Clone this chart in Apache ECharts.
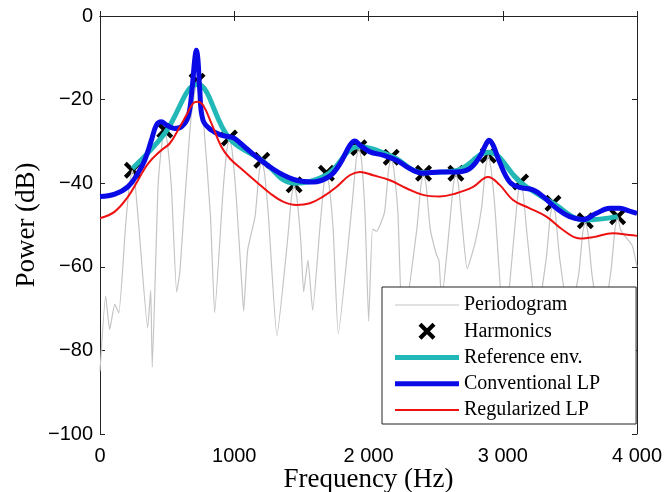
<!DOCTYPE html>
<html>
<head>
<meta charset="utf-8">
<script src="https://cdn.jsdelivr.net/npm/echarts@6/dist/echarts.min.js"></script>
<style>
html,body{margin:0;padding:0;background:#fff;}
#chart{width:666px;height:492px;}
</style>
</head>
<body>
<div id="chart"></div>
<script>
// ---- data ----
var xTickLabels = ['0', '1000', '2 000', '3 000', '4 000'];
var yTickLabels = ['\u2212100', '\u221280', '\u221260', '\u221240', '\u221220', '0'];

var periodogramFreq = [0,42,72,110,140,191,221,241,261,291,355,378,389,432,462,482,502,532,571,594,623,673,703,723,743,773,823,854,914,944,964,984,1014,1055,1070,1100,1155,1185,1205,1225,1255,1318,1396,1426,1446,1466,1496,1517,1549,1584,1637,1667,1687,1707,1737,1775,1878,1908,1928,1948,1975,2001,2030,2060,2119,2149,2169,2189,2219,2255,2360,2390,2410,2430,2460,2505,2525,2545,2601,2631,2651,2671,2701,2735,2794,2842,2872,2892,2912,2942,3012,3083,3113,3133,3153,3183,3255,3324,3354,3374,3394,3424,3495,3565,3595,3615,3635,3665,3735,3806,3836,3856,3876,3906,3965,4000];
var periodogramDb = [-85,-67,-75,-69,-71,-50,-40,-36.9,-40,-51,-74.6,-65.6,-84,-41,-30.3,-27.3,-30.3,-41,-66,-61.5,-48,-26,-18.6,-15.6,-18.6,-26,-48,-71,-43,-32.2,-29.2,-32.2,-43,-63.6,-70.6,-56,-48,-37.5,-34.5,-37.5,-48,-76.5,-54,-43.4,-40.4,-43.4,-54,-66,-58.4,-70.4,-51,-40.6,-37.6,-40.6,-51,-76,-45,-34.5,-31.5,-34.5,-48,-73,-51,-51.5,-47,-36.8,-33.8,-36.8,-47,-75,-51,-40.6,-37.6,-40.6,-51,-57,-58.5,-68,-51,-40.6,-37.6,-40.6,-51,-60.5,-54.3,-46,-36.3,-33.3,-36.3,-46,-76,-53,-42.7,-39.7,-42.7,-53,-72,-58,-47.8,-44.8,-47.8,-58,-72,-62,-52,-49,-52,-62,-75,-61,-51,-48,-51,-52.5,-55,-60];

var harmonicFreq = [241,482,723,964,1205,1446,1687,1928,2169,2410,2651,2892,3133,3374,3615,3856];
var harmonicDb = [-36.9,-27.3,-15.6,-29.2,-34.5,-40.4,-37.6,-31.5,-33.8,-37.6,-37.6,-33.3,-39.7,-44.8,-49.0,-48.0];

var referenceFreq = [241,482,723,964,1205,1446,1687,1928,2169,2410,2651,2892,3133,3374,3615,3856];
var referenceDb = [-36.5,-28.1,-16.4,-29.3,-34.5,-40.0,-38.0,-31.3,-33.5,-37.5,-37.0,-32.6,-39.8,-44.8,-48.8,-48.0];

var conventionalFreq = [0,110,209,283,333,383,420,457,495,556,606,656,685,705,718,730,743,767,830,904,967,1003,1091,1214,1339,1463,1587,1711,1788,1862,1899,1936,2011,2108,2208,2307,2406,2530,2655,2754,2828,2878,2898,2928,2977,3052,3126,3225,3300,3400,3499,3598,3698,3797,3871,3946,4000];
var conventionalDb = [-43.2,-42.6,-40.8,-37.6,-34.5,-29.7,-26.1,-25.3,-26.1,-26.9,-26.5,-24.1,-17.7,-10.6,-8.2,-10.6,-17.7,-24.9,-27.3,-28.5,-28.9,-29.3,-31.7,-34.9,-37.6,-39.3,-39.7,-38.3,-35.3,-30.9,-29.9,-30.9,-32.5,-33.3,-34.5,-36.5,-37.6,-37.3,-37.3,-36.5,-33.7,-30.5,-29.7,-30.9,-35.0,-39.7,-41.0,-41.6,-43.2,-46,-48,-48.7,-47.2,-46,-46,-46.7,-47.2];

var regularizedFreq = [0,110,209,283,358,457,519,581,644,693,726,767,830,904,967,1065,1166,1266,1363,1463,1563,1661,1761,1860,1936,2034,2159,2282,2406,2530,2655,2779,2890,2977,3076,3201,3325,3449,3574,3672,3821,3946,4000];
var regularizedDb = [-48.4,-46.8,-43.2,-39.3,-35.3,-32.1,-30.5,-27.3,-23.7,-20.9,-20.5,-21.3,-25.7,-31.3,-34.1,-36.9,-39.7,-42.4,-44.4,-45.2,-44.8,-43.2,-40.9,-38.1,-37.3,-38.1,-39.3,-41.2,-42.8,-43.2,-42.4,-40.9,-38.5,-40.4,-44,-46,-48,-51.2,-53.2,-52.9,-52,-52.4,-52.6];

function pairs(xs, ys) { return xs.map(function (x, i) { return [x, ys[i]]; }); }

var crossPath = 'path://M3.5,0 L10,6.5 L16.5,0 L20,3.5 L13.5,10 L20,16.5 L16.5,20 L10,13.5 L3.5,20 L0,16.5 L6.5,10 L0,3.5 Z';
function barIcon(h) { return 'path://M0,0 L64,0 L64,' + h + ' L0,' + h + ' Z'; }

var chart = echarts.init(document.getElementById('chart'), null, {renderer: 'canvas'});
var axisColor = '#222';
var sans = 'Liberation Sans, Arial, sans-serif';
var serif = 'Liberation Serif, Times New Roman, serif';

chart.setOption({
  animation: false,
  backgroundColor: '#fff',
  grid: {left: 100, right: 29, top: 16, bottom: 58, containLabel: false, outerBoundsMode: 'none'},
  xAxis: [{
    type: 'value', min: 0, max: 4000, interval: 1000,
    name: 'Frequency (Hz)', nameLocation: 'middle', nameGap: 32, nameMoveOverlap: false,
    nameTextStyle: {fontFamily: serif, fontSize: 27, color: '#000'},
    axisLine: {show: true, lineStyle: {color: axisColor, width: 1}},
    axisTick: {show: true, inside: true, length: 5, lineStyle: {color: axisColor}},
    axisLabel: {
      margin: 12, fontFamily: sans, fontSize: 20, color: '#000',
      formatter: function (v) { return xTickLabels[Math.round(v / 1000)]; }
    },
    splitLine: {show: false}
  }, {
    type: 'value', min: 0, max: 4000, interval: 1000, position: 'top',
    axisLine: {show: true, onZero: false, lineStyle: {color: axisColor, width: 1}},
    axisTick: {show: true, inside: true, length: 5, lineStyle: {color: axisColor}},
    axisLabel: {show: false}, splitLine: {show: false}
  }],
  yAxis: [{
    type: 'value', min: -100, max: 0, interval: 20,
    name: 'Power (dB)', nameLocation: 'middle', nameGap: 60, nameMoveOverlap: false,
    nameTextStyle: {fontFamily: serif, fontSize: 27, color: '#000'},
    axisLine: {show: true, onZero: false, lineStyle: {color: axisColor, width: 1}},
    axisTick: {show: true, inside: true, length: 5, lineStyle: {color: axisColor}},
    axisLabel: {
      margin: 7, fontFamily: sans, fontSize: 20, color: '#000',
      formatter: function (v) { return yTickLabels[Math.round((v + 100) / 20)]; }
    },
    splitLine: {show: false}
  }, {
    type: 'value', min: -100, max: 0, interval: 20, position: 'right',
    axisLine: {show: true, onZero: false, lineStyle: {color: axisColor, width: 1}},
    axisTick: {show: true, inside: true, length: 5, lineStyle: {color: axisColor}},
    axisLabel: {show: false}, splitLine: {show: false}
  }],
  legend: {
    orient: 'vertical', left: 382, top: 287,
    padding: [8, 36, 4, 13], itemGap: 6.25, itemWidth: 64, itemHeight: 17, itemTextGap: 10,
    backgroundColor: '#fff', borderColor: '#222', borderWidth: 1, borderRadius: 0,
    textStyle: {fontFamily: serif, fontSize: 20, lineHeight: 20, color: '#000'},
    data: [
      {name: 'Periodogram', icon: barIcon(1.2)},
      {name: 'Harmonics'},
      {name: 'Reference env.', icon: barIcon(5)},
      {name: 'Conventional LP', icon: barIcon(5)},
      {name: 'Regularized LP', icon: barIcon(2)}
    ]
  },
  series: [{
    name: 'Periodogram', type: 'line', data: pairs(periodogramFreq, periodogramDb),
    symbol: 'none', smooth: 0.15, lineStyle: {color: '#c4c4c4', width: 1.2}, itemStyle: {color: '#c4c4c4'}
  }, {
    name: 'Harmonics', type: 'scatter', data: pairs(harmonicFreq, harmonicDb),
    symbol: crossPath, symbolSize: 17, itemStyle: {color: '#000', opacity: 1}
  }, {
    name: 'Reference env.', type: 'line', data: pairs(referenceFreq, referenceDb),
    symbol: 'none', smooth: 0.4, lineStyle: {color: '#22b8b8', width: 5}, itemStyle: {color: '#22b8b8'}
  }, {
    name: 'Conventional LP', type: 'line', data: pairs(conventionalFreq, conventionalDb),
    symbol: 'none', smooth: 0.4, lineStyle: {color: '#0a0ae6', width: 5}, itemStyle: {color: '#0a0ae6'}
  }, {
    name: 'Regularized LP', type: 'line', data: pairs(regularizedFreq, regularizedDb),
    symbol: 'none', smooth: 0.4, lineStyle: {color: '#ee1111', width: 2}, itemStyle: {color: '#ee1111'}
  }]
});
</script>
</body>
</html>
